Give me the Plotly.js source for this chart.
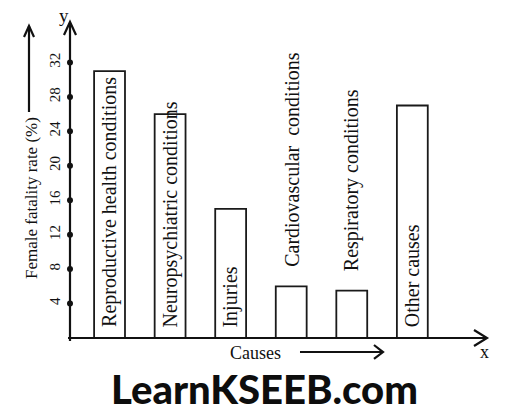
<!DOCTYPE html>
<html>
<head>
<meta charset="utf-8">
<script src="https://cdn.plot.ly/plotly-3.0.1.min.js"></script>
<style>
  body { margin: 0; background: #fff; }
  #chart { width: 509px; height: 413px; }
</style>
</head>
<body>
<div id="chart"></div>
<script>
// data
var causes = ["Reproductive health conditions", "Neuropsychiatric conditions", "Injuries",
  "Cardiovascular  conditions", "Respiratory conditions", "Other causes"]
var fatality = [31, 26, 15, 6, 5.5, 27]
var tickVals = [4, 8, 12, 16, 20, 24, 28, 32]

var W = 509, H = 413
var mg = {l: 70, r: 24, t: 28, b: 75}
var serif = "Liberation Serif, Times New Roman, serif"

// pixel -> paper helpers for the hand drawn arrows
function px(x){ return (x - mg.l) / (W - mg.l - mg.r) }
function py(y){ return (H - mg.b - y) / (H - mg.t - mg.b) }
function path(pts){
	return pts.map((p, i) => (i ? "L" : "M") + px(p[0]).toFixed(4) + "," + py(p[1]).toFixed(4)).join(" ")
}
function line(pts){
	return {type: "path", xref: "paper", yref: "paper", path: path(pts),
		line: {color: "#111", width: 2.2}}
}
function label(x, y, text, size, extra){
	return Object.assign({xref: "paper", yref: "paper", x: px(x), y: py(y), text: text,
		xanchor: "center", yanchor: "middle", showarrow: false,
		font: {family: serif, size: size, color: "#111"}}, extra || {})
}

var idx = causes.map((c, i) => i)
var xr = [-0.653, 6.2]

var bars = {
	type: "bar",
	x: idx,
	y: fatality,
	width: 0.51,
	marker: {color: "#fff", line: {color: "#1a1a1a", width: 1.8}},
	hoverinfo: "skip"
}

// dots on the y axis at every tick
var dots = {
	type: "scatter",
	mode: "markers",
	x: tickVals.map(() => xr[0]),
	y: tickVals,
	cliponaxis: false,
	marker: {color: "#111", size: 6},
	hoverinfo: "skip"
}

var annotations = causes.map((c, i) => {
	var v = fatality[i]
	return {
		x: i, y: v < 10 ? v + 2 : 1,
		xref: "x", yref: "y",
		text: c, textangle: -90,
		showarrow: false,
		xanchor: "center", yanchor: "bottom",
		font: {family: serif, size: 20, color: "#111"}
	}
})

annotations.push(
	label(31, 198, "Female fatality rate (%)", 17, {textangle: -90}),
	label(64, 16, "y", 19),
	label(484, 352, "x", 18),
	label(255, 353, "Causes", 18),
	label(264, 389, "LearnKSEEB.com", 40,
		{font: {family: "Lato, Open Sans, sans-serif", size: 40, weight: 900, color: "#0d0d0d"}})
)

var shapes = [
	line([[70, 341], [70, 23]]),
	line([[64, 35], [70, 22], [76, 35]]),
	line([[68, 338], [486, 338]]),
	line([[474, 330], [487, 338], [474, 346]]),
	line([[29, 112], [29, 26]]),
	line([[24, 37], [29, 26], [34, 37]]),
	line([[300, 352], [383, 352]]),
	line([[374, 345], [383, 352], [374, 359]])
]

var layout = {
	width: W, height: H,
	margin: mg,
	paper_bgcolor: "#fff",
	plot_bgcolor: "#fff",
	showlegend: false,
	xaxis: {range: xr, showgrid: false, zeroline: false, showline: false,
		showticklabels: false, ticks: "", fixedrange: true},
	yaxis: {range: [0, 36], showgrid: false, zeroline: false, showline: false,
		tickvals: tickVals, tickangle: -90, ticks: "outside", ticklen: 3,
		tickcolor: "rgba(0,0,0,0)",
		tickfont: {family: serif, size: 15, color: "#111"}, fixedrange: true},
	shapes: shapes,
	annotations: annotations
}

Plotly.newPlot("chart", [bars, dots], layout, {displayModeBar: false, staticPlot: true})
</script>
</body>
</html>
